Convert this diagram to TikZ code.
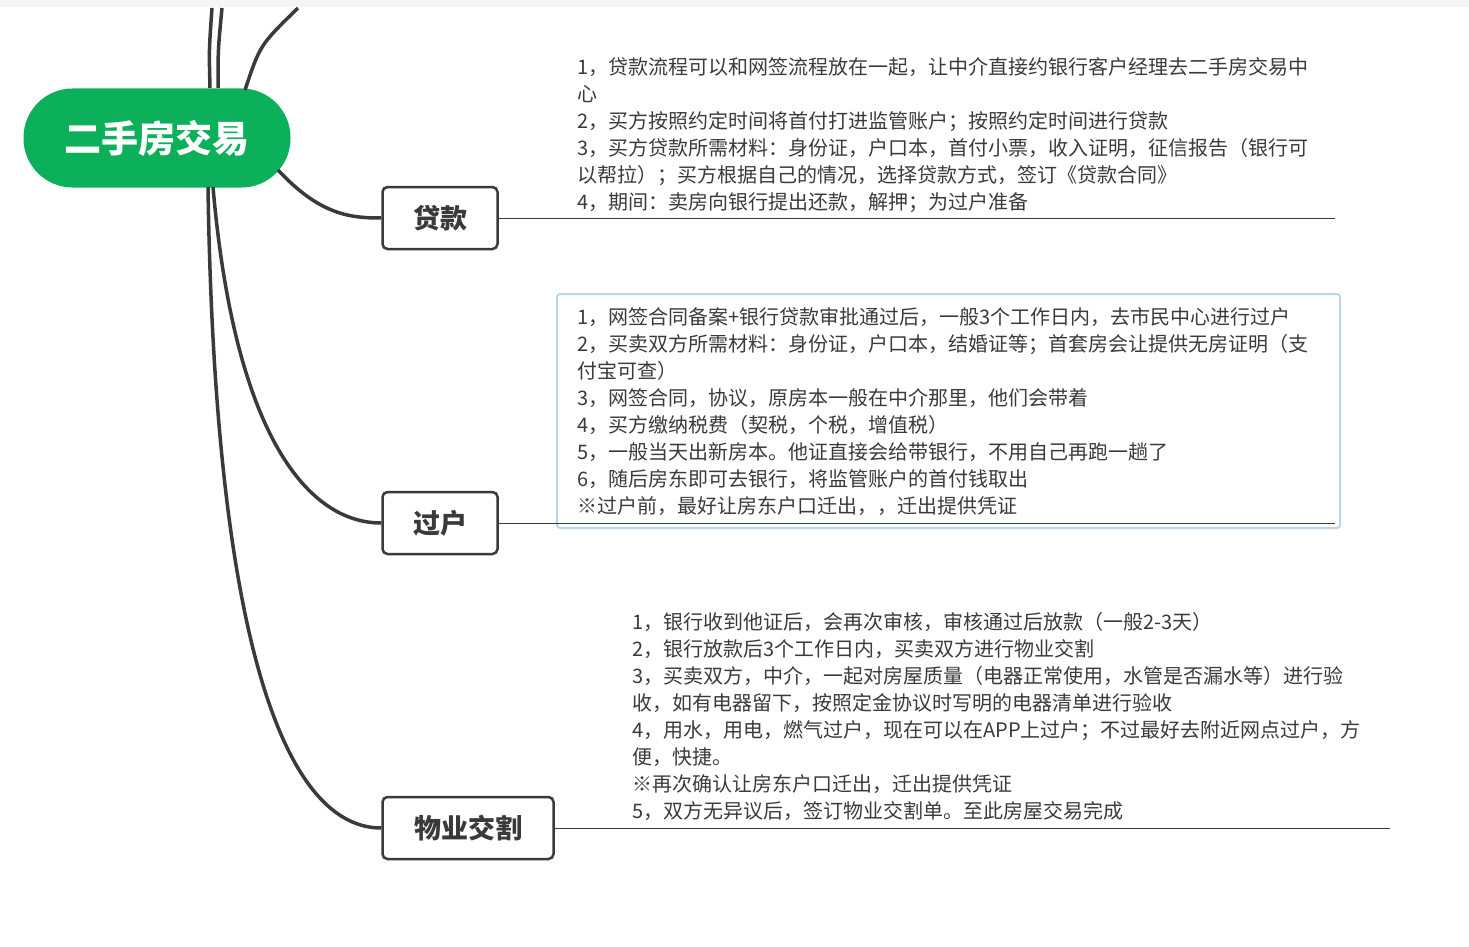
\documentclass[tikz,border=0pt]{standalone}
\usepackage{fontspec}
\setmainfont{Noto Sans CJK SC}
\usetikzlibrary{positioning}
\definecolor{rootgreen}{HTML}{0DB05A}
\definecolor{branchgray}{HTML}{3A3A3A}
\definecolor{hiblue}{HTML}{BCD4EE}
\tikzset{
  topic/.style={draw=branchgray, line width=2.5pt, rounded corners=5pt, fill=white, minimum height=62pt, font=\fontsize{27}{27}\selectfont\bfseries, text=branchgray},
  notes/.style={anchor=north west, inner sep=0pt, align=left, font=\fontsize{20}{27}\selectfont, text=branchgray},
  link/.style={draw=branchgray, line width=3.5pt},
  underline/.style={draw=branchgray, line width=1pt}
}
\begin{document}
\begin{tikzpicture}[x=1pt, y=-1pt]
\useasboundingbox (0,0) rectangle (1469,947);
\fill[gray!8] (0,0) rectangle (1469,7);
% Root
\node [fill=rootgreen, rounded corners=49pt, minimum width=267pt, minimum height=99pt, text=white, font=\fontsize{37}{37}\selectfont\bfseries] (root) at (157,138) {二手房交易};
% Topics
\node [topic, minimum width=115pt] (loan) at (440,218) {贷款};
\node [topic, minimum width=115pt] (transfer) at (440,523) {过户};
\node [topic, minimum width=171pt] (handover) at (468,828) {物业交割};
% Highlight box
\draw [hiblue, line width=2pt, rounded corners=3pt] (557,294) rectangle (1340,528);
% Branches
\coordinate (up-1) at (212,8);
\coordinate (up-2) at (222,8);
\coordinate (up-3) at (298,8);
\draw [link] (210,88) .. controls (209,50) .. (up-1);
\draw [link] (218,88) .. controls (218,50) .. (up-2);
\draw [link] (245,90) .. controls (260,45) .. (up-3);
\draw [link] (278,170) .. controls (320,215) and (350,218) .. (loan.west);
\draw [link] (213,187) .. controls (235,440) and (310,523) .. (transfer.west);
\draw [link] (208,187) .. controls (215,660) and (290,828) .. (handover.west);
% Underlines
\coordinate (end-1) at (1335,218);
\coordinate (end-2) at (1335,523);
\coordinate (end-3) at (1390,828);
\draw [underline] (loan.east) -- (end-1);
\draw [underline] (transfer.east) -- (end-2);
\draw [underline] (handover.east) -- (end-3);
% Notes
\node [notes] (loan-text) at (577,57) {1，贷款流程可以和网签流程放在一起，让中介直接约银行客户经理去二手房交易中\\心\\2，买方按照约定时间将首付打进监管账户；按照约定时间进行贷款\\3，买方贷款所需材料：身份证，户口本，首付小票，收入证明，征信报告（银行可\\以帮拉）；买方根据自己的情况，选择贷款方式，签订《贷款合同》\\4，期间：卖房向银行提出还款，解押；为过户准备};
\node [notes] (transfer-text) at (577,307) {1，网签合同备案+银行贷款审批通过后，一般3个工作日内，去市民中心进行过户\\2，买卖双方所需材料：身份证，户口本，结婚证等；首套房会让提供无房证明（支\\付宝可查）\\3，网签合同，协议，原房本一般在中介那里，他们会带着\\4，买方缴纳税费（契税，个税，增值税）\\5，一般当天出新房本。他证直接会给带银行，不用自己再跑一趟了\\6，随后房东即可去银行，将监管账户的首付钱取出\\※过户前，最好让房东户口迁出，，迁出提供凭证};
\node [notes] (handover-text) at (632,612) {1，银行收到他证后，会再次审核，审核通过后放款（一般2-3天）\\2，银行放款后3个工作日内，买卖双方进行物业交割\\3，买卖双方，中介，一起对房屋质量（电器正常使用，水管是否漏水等）进行验\\收，如有电器留下，按照定金协议时写明的电器清单进行验收\\4，用水，用电，燃气过户，现在可以在APP上过户；不过最好去附近网点过户，方\\便，快捷。\\※再次确认让房东户口迁出，迁出提供凭证\\5，双方无异议后，签订物业交割单。至此房屋交易完成};
\end{tikzpicture}
\end{document}
